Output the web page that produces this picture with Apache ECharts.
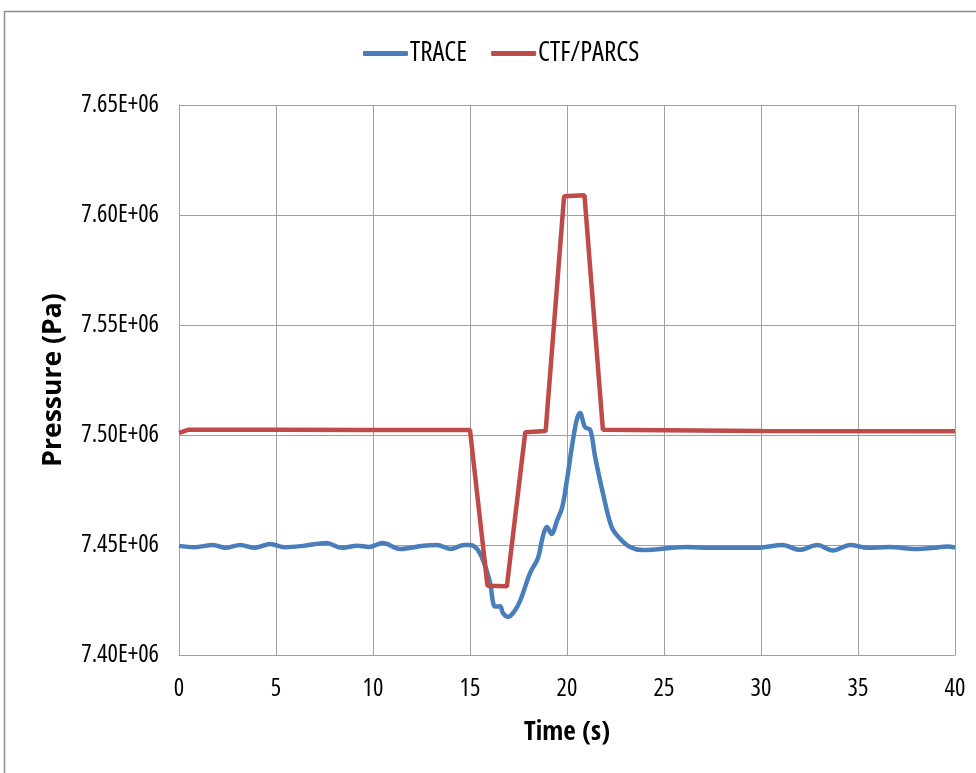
<!DOCTYPE html>
<html>
<head>
<meta charset="utf-8">
<script src="https://cdn.jsdelivr.net/npm/echarts@6/dist/echarts.min.js"></script>
<style>html,body{margin:0;padding:0;background:#fff;}#c{width:976px;height:773px;}</style>
</head>
<body>
<div id="c"></div>
<script>
// Data (time in s, pressure in units of 1e6 Pa)
const traceTime = [0,0.8,1.75,2.4,3.15,3.9,4.7,5.45,6.4,7.6,8.4,9.2,9.8,10.5,11.4,12.6,13.3,14.0,14.7,15.0,15.5,16.0,16.3,16.55,16.7,16.96,17.3,17.6,18.1,18.5,18.75,18.97,19.2,19.5,19.75,20.0,20.25,20.5,20.67,20.93,21.2,21.45,21.85,22.3,22.7,23.25,23.9,24.8,26.2,27.4,28.6,29.9,31.1,32.0,32.9,33.7,34.6,35.5,36.6,38.0,38.9,39.6,40.0];
const tracePressure = [7.4496,7.4490,7.4500,7.4487,7.4500,7.4487,7.4505,7.4490,7.4496,7.4509,7.4487,7.4497,7.4491,7.4509,7.4482,7.4497,7.4500,7.4482,7.4500,7.4500,7.4464,7.4341,7.4220,7.4222,7.4190,7.4173,7.4200,7.4250,7.4373,7.4440,7.4537,7.4582,7.4550,7.4614,7.4670,7.4796,7.4946,7.5068,7.5100,7.5036,7.5023,7.4900,7.4736,7.4582,7.4532,7.4491,7.4477,7.4482,7.4491,7.4487,7.4488,7.4488,7.4500,7.4478,7.4500,7.4475,7.4500,7.4487,7.4491,7.4482,7.4487,7.4493,7.4489];
const ctfTime = [0,0.5,5,10,15,15.9,16.9,17.85,18.9,19.85,20.9,21.85,25,30,40];
const ctfPressure = [7.5010,7.5024,7.5024,7.5023,7.5023,7.4315,7.4312,7.5013,7.5018,7.6085,7.6090,7.5024,7.5022,7.5018,7.5017];
const xTicks = {min:0, max:40, interval:5};
const yTicks = {min:7.40e6, max:7.65e6, interval:5e4};

const font = '"Open Sans"';
const toPairs = (t, p) => t.map((v,i)=>[v, p[i]*1e6]);

const chart = echarts.init(document.getElementById('c'), null, {renderer:'canvas'});
chart.setOption({
  animation:false,
  backgroundColor:'#fff',
  graphic:[{type:'rect', shape:{x:4.5,y:11.5,width:1000,height:1000}, style:{fill:'none',stroke:'#8c8c8c',lineWidth:1.5}, silent:true}],
  legend:{
    top:35, left:358, itemGap:24, itemWidth:45, itemHeight:5, icon:'roundRect',
    textStyle:{fontFamily:font,fontStyle:'condensed',fontSize:27,color:'#000',padding:[0,0,0,-3]},
    data:['TRACE','CTF/PARCS']
  },
  grid:{left:179,right:21,top:105,bottom:118},
  xAxis:{
    type:'value', min:xTicks.min, max:xTicks.max, interval:xTicks.interval,
    name:'Time (s)', nameLocation:'middle', nameGap:64,
    nameTextStyle:{fontFamily:'"Open Sans Condensed","Roboto Condensed",sans-serif',fontSize:27,fontWeight:'bold',color:'#000'},
    axisLine:{show:true,lineStyle:{color:'#a0a0a0',width:1}},
    axisTick:{show:false},
    axisLabel:{fontFamily:font,fontStyle:'condensed',fontSize:24.5,color:'#000',margin:22},
    splitLine:{show:true,lineStyle:{color:'#a0a0a0',width:1}}
  },
  yAxis:{
    type:'value', min:yTicks.min, max:yTicks.max, interval:yTicks.interval,
    name:'Pressure (Pa)', nameLocation:'middle', nameGap:112,
    nameTextStyle:{fontFamily:'"Open Sans","Noto Sans",sans-serif',fontSize:26.5,fontWeight:'bold',color:'#000'},
    axisLine:{show:true,lineStyle:{color:'#a0a0a0',width:1}},
    axisTick:{show:false},
    axisLabel:{fontFamily:font,fontStyle:'condensed',fontSize:24.5,color:'#000',margin:20,
      formatter:v=>(v/1e6).toFixed(2)+'E+06'},
    splitLine:{show:true,lineStyle:{color:'#a0a0a0',width:1}}
  },
  series:[
    {name:'TRACE',type:'line',data:toPairs(traceTime,tracePressure),showSymbol:false,symbol:'none',smooth:0.35,
      lineStyle:{color:'#4a7ebb',width:4.5},itemStyle:{color:'#4a7ebb'}},
    {name:'CTF/PARCS',type:'line',data:toPairs(ctfTime,ctfPressure),showSymbol:false,symbol:'none',
      lineStyle:{color:'#be4b48',width:4.5},itemStyle:{color:'#be4b48'}}
  ]
});
</script>
</body>
</html>
